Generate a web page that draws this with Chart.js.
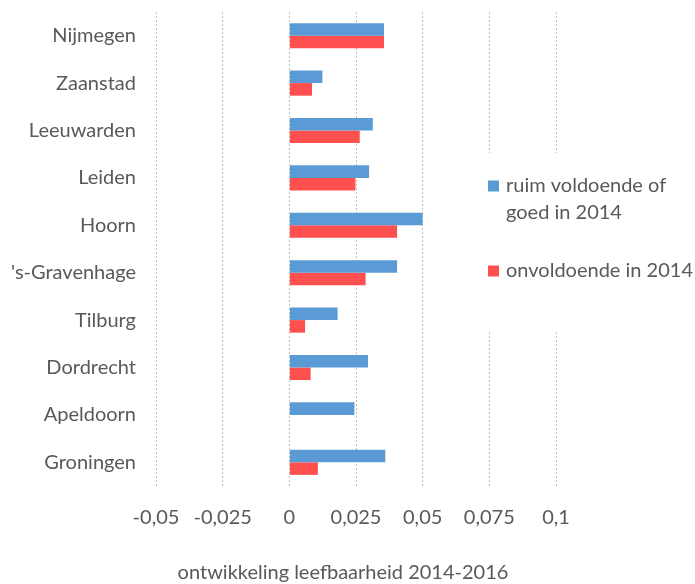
<!DOCTYPE html>
<html>
<head>
<meta charset="utf-8">
<script src="https://cdn.jsdelivr.net/npm/chart.js@4.4.0/dist/chart.umd.min.js"></script>
<style>
  html, body { margin: 0; padding: 0; background: #fff; }
  #wrap { width: 695px; height: 584px; }
</style>
</head>
<body>
<div id="wrap"><canvas id="grafiek" width="695" height="584"></canvas></div>
<script>
const steden = ["Nijmegen", "Zaanstad", "Leeuwarden", "Leiden", "Hoorn", "'s-Gravenhage", "Tilburg", "Dordrecht", "Apeldoorn", "Groningen"];
const ruimVoldoende = [0.0355, 0.0124, 0.0313, 0.0299, 0.0500, 0.0404, 0.0181, 0.0295, 0.0244, 0.0360];
const onvoldoende = [0.0355, 0.0085, 0.0264, 0.0248, 0.0404, 0.0286, 0.0059, 0.0080, 0, 0.0107];
const tickLabels = ["-0,05", "-0,025", "0", "0,025", "0,05", "0,075", "0,1"];
const reeksNamen = [["ruim voldoende of", "goed in 2014"], ["onvoldoende in 2014"]];
const asTitel = "ontwikkeling leefbaarheid 2014-2016";

const tekstKleur = "#595959";
const lettertype = "Lato, 'Open Sans', sans-serif";
const letterGrootte = 20;
const kleuren = ["#5b9bd5", "#ff5050"];

// legenda en astitel tekenen we zelf, zoals in Excel (legenda over het plotvlak)
const extraTekst = {
  id: "extraTekst",
  afterDraw(chart) {
    const ctx = chart.ctx;
    ctx.save();
    ctx.fillStyle = "#fff";
    ctx.fillRect(484, 153, 211, 177);

    ctx.font = letterGrootte + "px " + lettertype;
    ctx.textBaseline = "middle";
    ctx.textAlign = "left";
    const legendaY = [186, 271];
    reeksNamen.forEach((naam, i) => {
      ctx.fillStyle = kleuren[i];
      ctx.fillRect(488, legendaY[i] - 5.5, 11, 11);
      ctx.fillStyle = tekstKleur;
      naam.forEach((regel, j) => {
        ctx.fillText(regel, 506, legendaY[i] + j * 27);
      });
    });

    ctx.textAlign = "center";
    ctx.fillText(asTitel, 343, 573);
    ctx.restore();
  }
};

new Chart(document.getElementById("grafiek"), {
  type: "bar",
  data: {
    labels: steden,
    datasets: [
      { label: reeksNamen[0].join(" "), data: ruimVoldoende, backgroundColor: kleuren[0] },
      { label: reeksNamen[1].join(" "), data: onvoldoende, backgroundColor: kleuren[1] }
    ]
  },
  options: {
    indexAxis: "y",
    responsive: false,
    animation: false,
    categoryPercentage: 0.53,
    barPercentage: 1,
    layout: { padding: { top: 12, right: 139, left: 0, bottom: 0 } },
    plugins: {
      legend: { display: false },
      tooltip: { enabled: false }
    },
    scales: {
      x: {
        min: -0.05,
        max: 0.1,
        afterBuildTicks(axis) {
          axis.ticks = tickLabels.map((t, i) => ({ value: -0.05 + i * 0.025 }));
        },
        afterFit(axis) {
          axis.height = 98;
          axis.paddingLeft = 0;
          axis.paddingRight = 0;
        },
        border: { display: false, dash: [2, 2] },
        grid: { color: "#bfbfbf", lineWidth: 1, drawTicks: false },
        ticks: {
          padding: 20,
          color: tekstKleur,
          font: { family: lettertype, size: letterGrootte },
          maxRotation: 0,
          callback: (v, i) => tickLabels[i]
        }
      },
      y: {
        afterFit(axis) {
          axis.width = 156;
          axis.paddingTop = 0;
          axis.paddingBottom = 0;
        },
        border: { display: false },
        grid: { display: false, drawTicks: false },
        ticks: {
          padding: 20,
          color: tekstKleur,
          font: { family: lettertype, size: letterGrootte }
        }
      }
    }
  },
  plugins: [extraTekst]
});
</script>
</body>
</html>
